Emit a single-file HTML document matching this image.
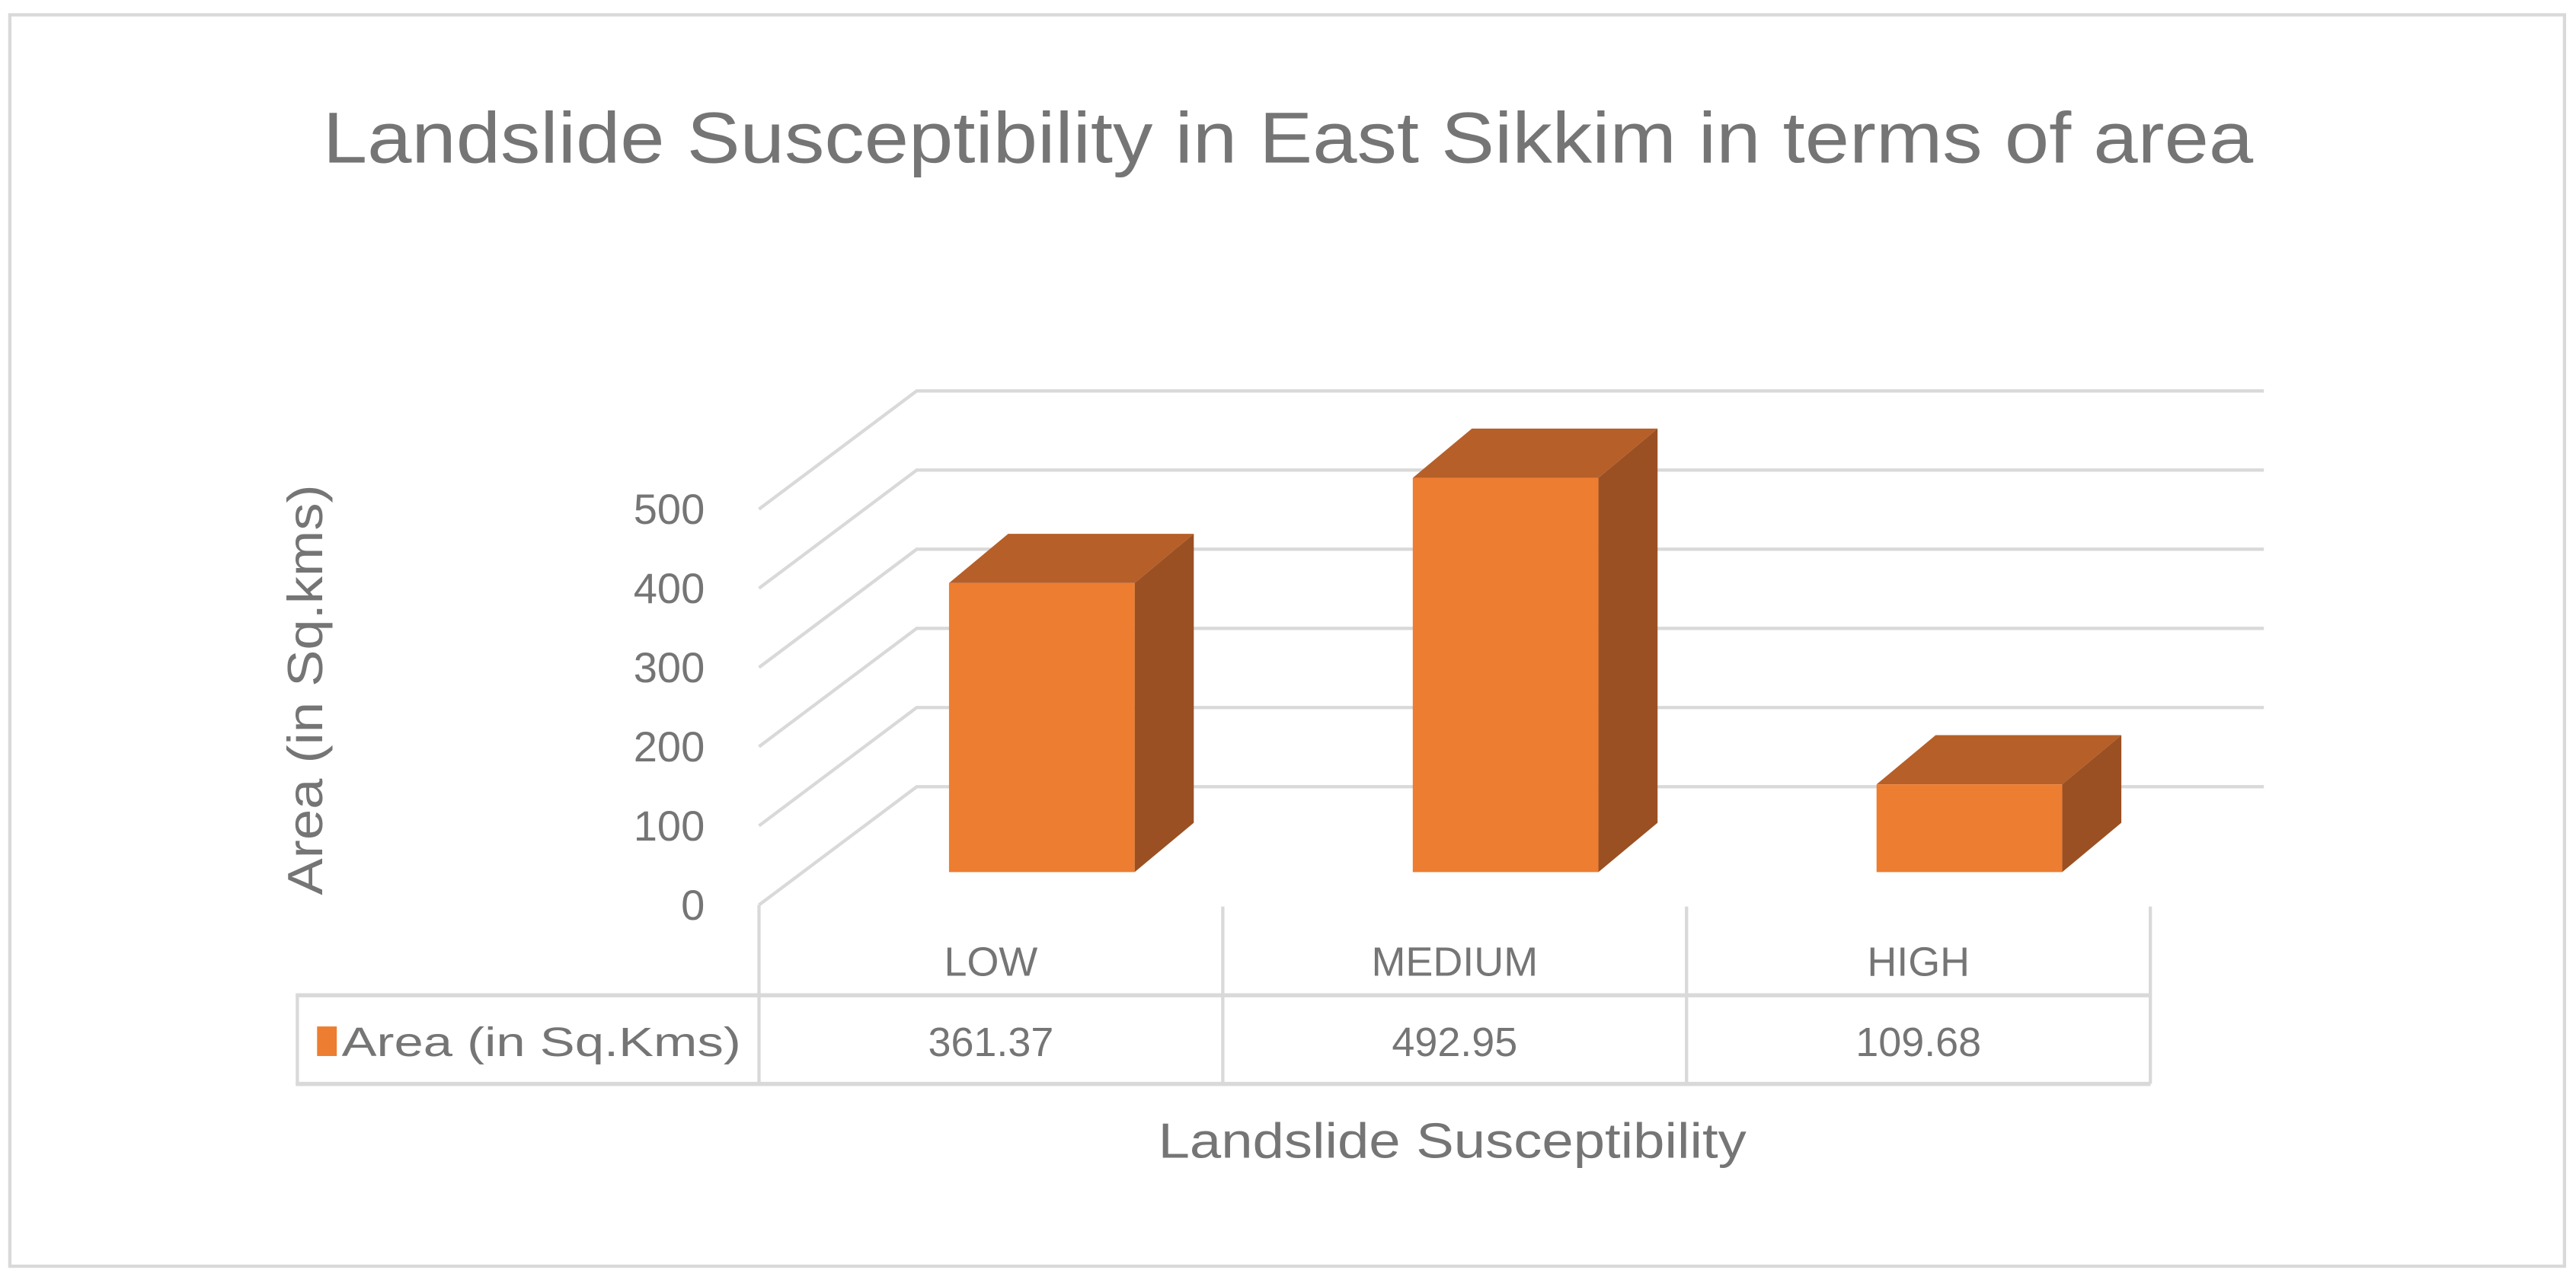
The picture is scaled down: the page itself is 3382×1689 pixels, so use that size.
<!DOCTYPE html>
<html><head><meta charset="utf-8"><style>html,body{margin:0;padding:0;background:#fff;}svg{display:block;}</style></head>
<body>
<svg id="chart" xmlns="http://www.w3.org/2000/svg" width="3382" height="1689" viewBox="0 0 1568 783" font-family="'Liberation Sans', sans-serif">
<rect x="6" y="9" width="1555" height="762" fill="#fff" stroke="#d9d9d9" stroke-width="2"/>
<text x="784" y="99" text-anchor="middle" font-size="44" fill="#757575" textLength="1175" lengthAdjust="spacingAndGlyphs">Landslide Susceptibility in East Sikkim in terms of area</text>
<g id="grid"></g>
<g id="bars"></g>
<g id="yticks"></g>
<text transform="translate(196,420) rotate(-90)" text-anchor="middle" font-size="30" fill="#757575" textLength="250" lengthAdjust="spacingAndGlyphs">Area (in Sq.kms)</text>
<g id="table"></g>
<text x="884" y="705" text-anchor="middle" font-size="30" fill="#757575" textLength="358" lengthAdjust="spacingAndGlyphs">Landslide Susceptibility</text>
</svg>
<script>
const categories = ["LOW", "MEDIUM", "HIGH"];
const values = [361.37, 492.95, 109.68];
const valueLabels = ["361.37", "492.95", "109.68"];
const yTicks = [0, 100, 200, 300, 400, 500];
const seriesName = "Area (in Sq.Kms)";

const NS = "http://www.w3.org/2000/svg";
function mk(tag, attrs, parent) {
  const e = document.createElementNS(NS, tag);
  for (const k in attrs) e.setAttribute(k, attrs[k]);
  parent.appendChild(e);
  return e;
}
const yFront = v => 551 - v * 0.482;
const yBar = v => 531 - v * 0.487;
const frontX0 = 462, depthX = 96, depthY = -72, backX1 = 1378;
const colLeft = 462, colW = 282.3;

const grid = document.getElementById('grid');
yTicks.forEach(t => {
  const y = yFront(t);
  const l = mk('polyline', {points: `${frontX0},${y} ${frontX0+depthX},${y+depthY} ${backX1},${y+depthY}`, fill: 'none', stroke: '#d9d9d9', 'stroke-width': 2}, grid);
  
  
});

const yt = document.getElementById('yticks');
yTicks.forEach(t => {
  const tx = mk('text', {x: 429, y: yFront(t) + 9, 'text-anchor': 'end', 'font-size': 26, fill: '#757575'}, yt);
  tx.textContent = t;
  
  
});

const bars = document.getElementById('bars');
const bw = 113, dx = 36, dy = -30;
values.forEach((v, i) => {
  const x = colLeft + colW * i + (colW - bw) / 2 + 31;
  const yt2 = yBar(v), yb = yBar(0);
  const g = mk('g', {}, bars);
  
  
  mk('polygon', {points: `${x+bw},${yt2} ${x+bw+dx},${yt2+dy} ${x+bw+dx},${yb+dy} ${x+bw},${yb}`, fill: '#9a5022'}, g);
  mk('polygon', {points: `${x},${yt2} ${x+dx},${yt2+dy} ${x+bw+dx},${yt2+dy} ${x+bw},${yt2}`, fill: '#b65f28'}, g);
  mk('rect', {x: x, y: yt2, width: bw, height: yb - yt2, fill: '#ed7d31'}, g);
});

const tb = document.getElementById('table');
const ln = (x1, y1, x2, y2, w) => mk('line', {x1, y1, x2, y2, stroke: '#d9d9d9', 'stroke-width': w || 2}, tb);
for (let i = 0; i <= categories.length; i++) {
  const x = colLeft + colW * i;
  ln(x, i === 0 ? 551 : 552, x, 660);
}
ln(180, 606, 1309, 606, 2.5);
ln(180, 660, 1309, 660, 2.5);
ln(181, 606, 181, 660);
categories.forEach((c, i) => {
  const cx = colLeft + colW * (i + 0.5);
  const t = mk('text', {x: cx, y: 594, 'text-anchor': 'middle', 'font-size': 25, fill: '#757575'}, tb);
  t.textContent = c;
  
  
  const v = mk('text', {x: cx, y: 643, 'text-anchor': 'middle', 'font-size': 25, fill: '#757575'}, tb);
  v.textContent = valueLabels[i];
  
  
});
const sw = mk('rect', {x: 193, y: 625, width: 12, height: 18, fill: '#ed7d31'}, tb);


const lt = mk('text', {x: 208, y: 643, 'font-size': 25, fill: '#757575', textLength: 243, lengthAdjust: 'spacingAndGlyphs'}, tb);
lt.textContent = seriesName;


</script>
</body></html>
